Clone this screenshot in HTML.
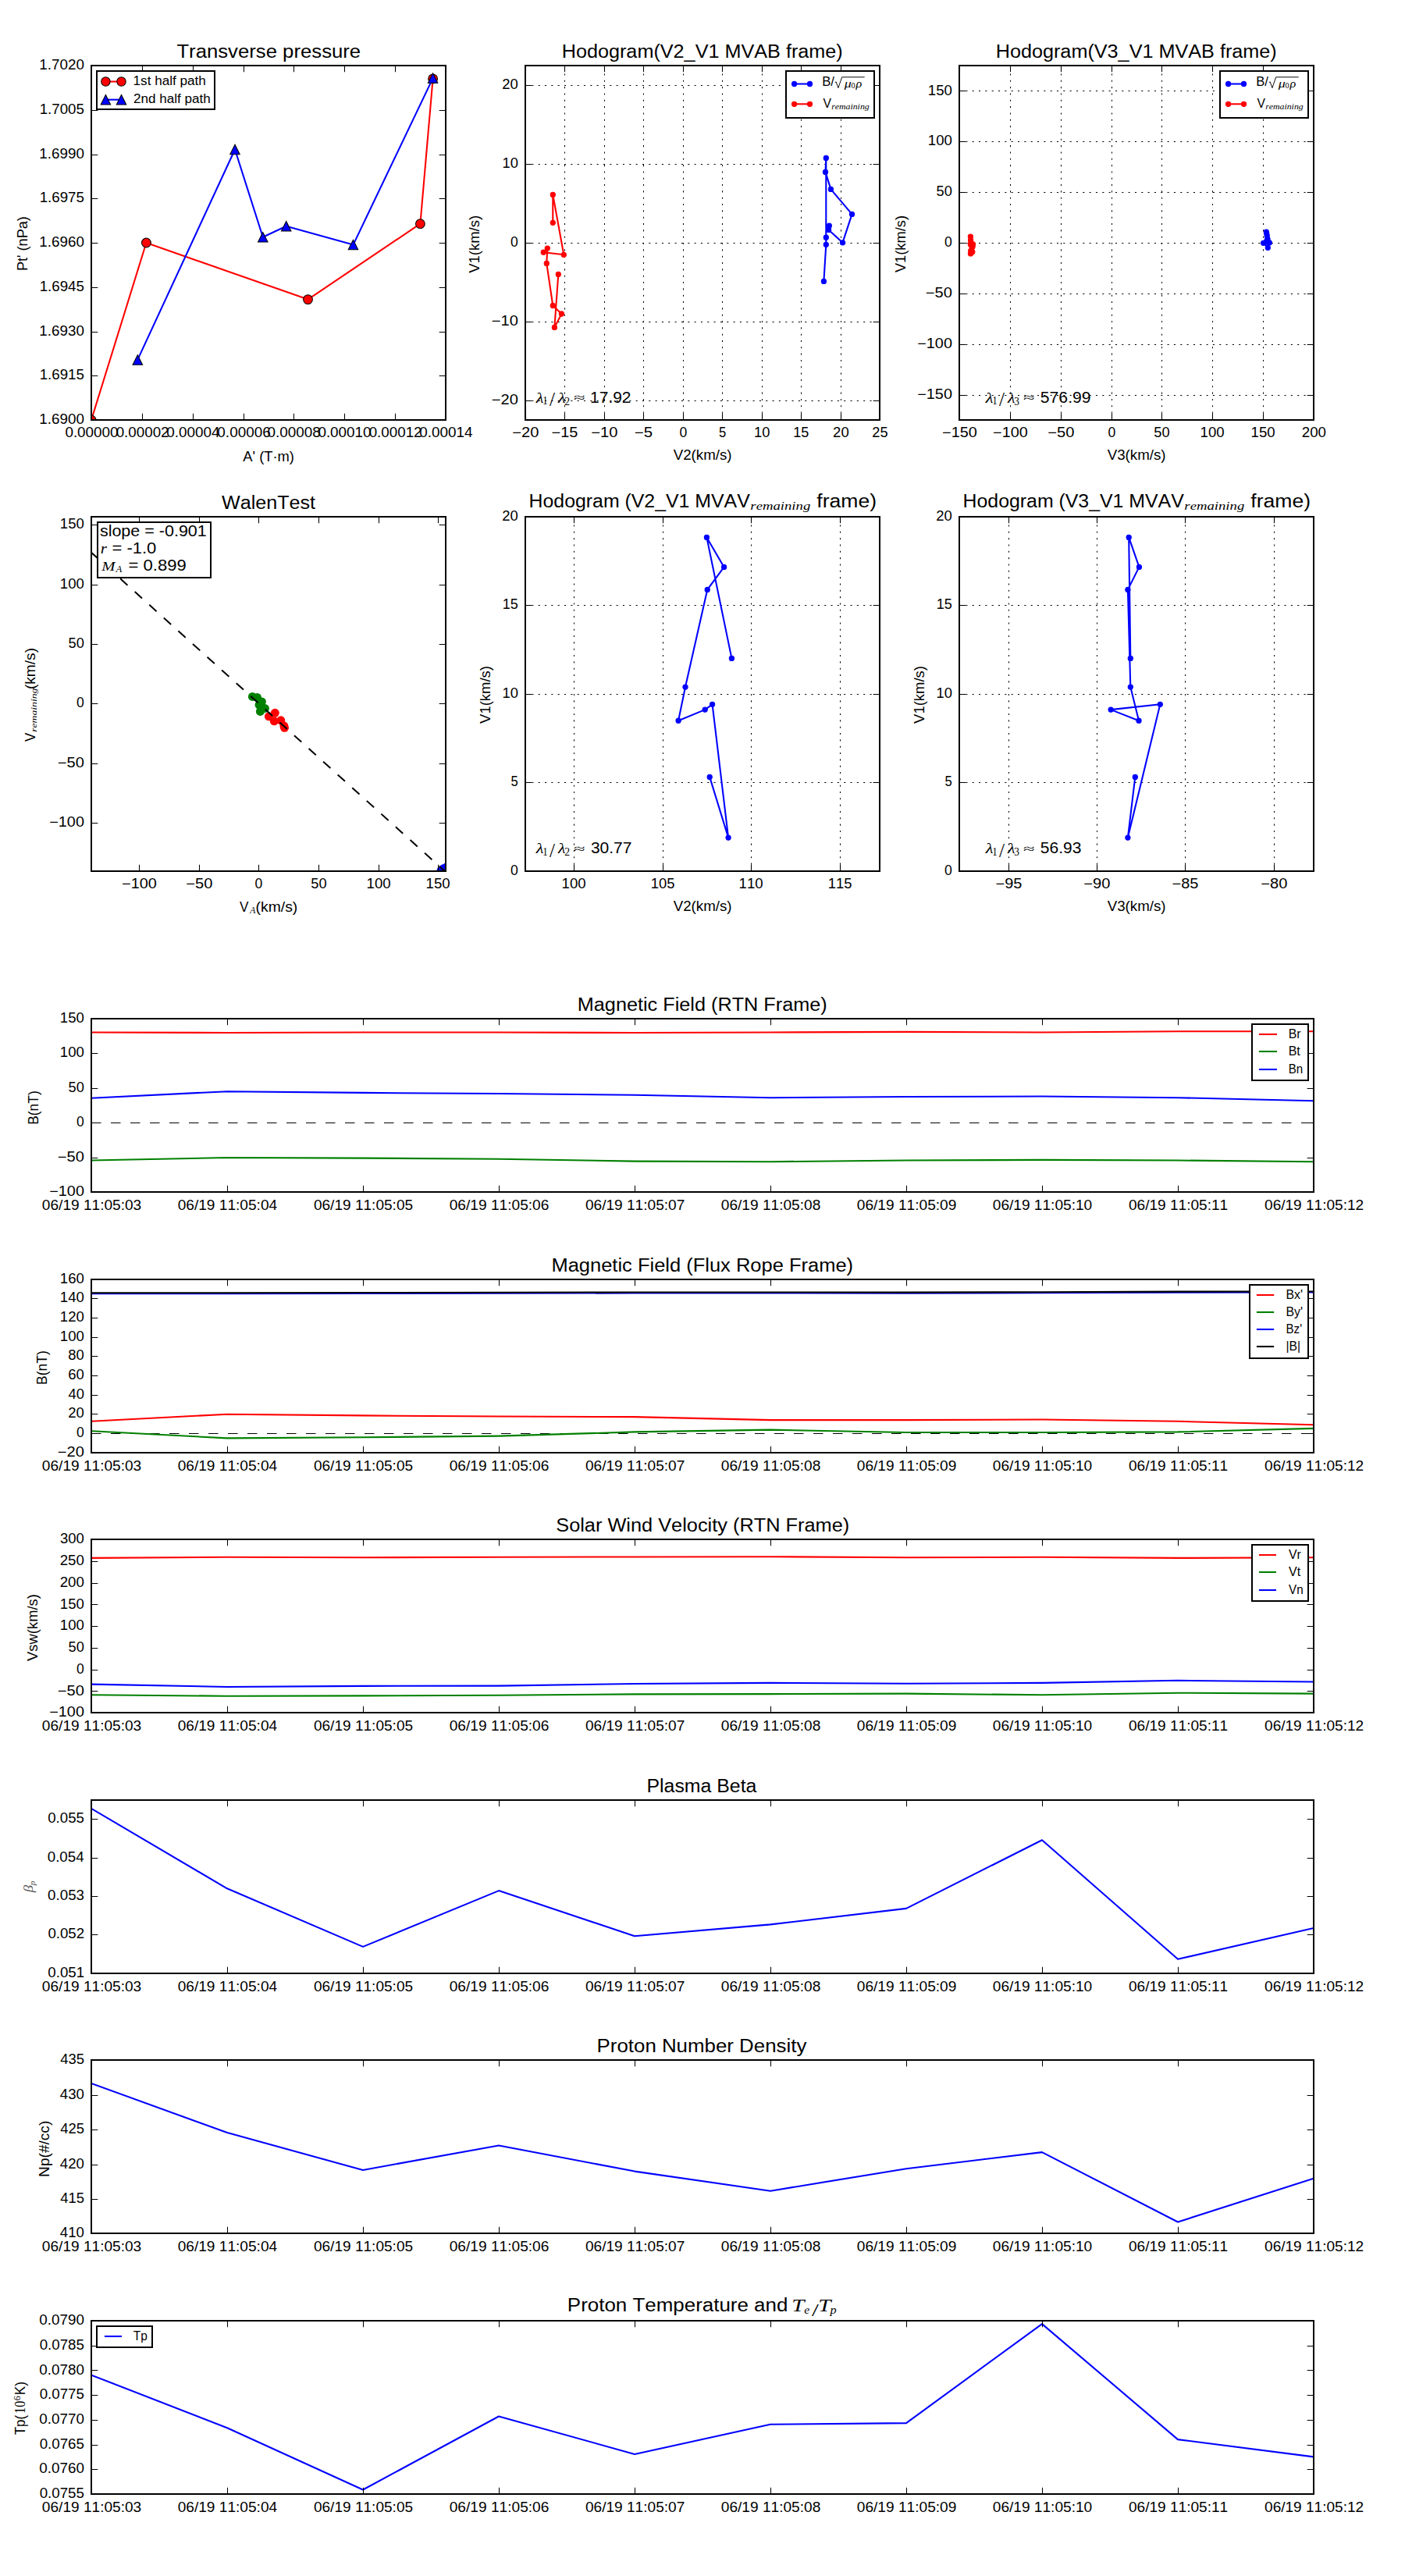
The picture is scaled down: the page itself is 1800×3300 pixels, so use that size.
<!DOCTYPE html>
<html><head><meta charset="utf-8"><title>Flux rope analysis</title>
<style>
html,body{margin:0;padding:0;background:#fff;}
svg{display:block;font-family:"Liberation Sans",sans-serif;font-kerning:none;}
</style></head>
<body>
<svg width="1800" height="3300" viewBox="0 0 1800 3300">
<rect x="0" y="0" width="1800" height="3300" fill="#fff"/>
<clipPath id="cA"><rect x="117" y="84" width="454" height="454"/></clipPath>
<g clip-path="url(#cA)">
<polyline points="117.00,538.00 187.40,311.00 394.50,383.60 538.40,286.70 554.60,100.90" fill="none" stroke="#ff0000" stroke-width="2.08" stroke-linejoin="round"/>
<circle cx="117.00" cy="538.00" r="5.9" fill="#ff0000" stroke="#000" stroke-width="1.04"/>
<circle cx="187.40" cy="311.00" r="5.9" fill="#ff0000" stroke="#000" stroke-width="1.04"/>
<circle cx="394.50" cy="383.60" r="5.9" fill="#ff0000" stroke="#000" stroke-width="1.04"/>
<circle cx="538.40" cy="286.70" r="5.9" fill="#ff0000" stroke="#000" stroke-width="1.04"/>
<circle cx="554.60" cy="100.90" r="5.9" fill="#ff0000" stroke="#000" stroke-width="1.04"/>
<polyline points="176.30,460.90 301.00,191.50 336.80,303.80 366.70,289.70 452.50,313.60 554.60,100.10" fill="none" stroke="#0000ff" stroke-width="2.08" stroke-linejoin="round"/>
<path d="M176.30,454.65L170.05,467.15L182.55,467.15Z" fill="#0000ff" stroke="#000" stroke-width="1.04"/>
<path d="M301.00,185.25L294.75,197.75L307.25,197.75Z" fill="#0000ff" stroke="#000" stroke-width="1.04"/>
<path d="M336.80,297.55L330.55,310.05L343.05,310.05Z" fill="#0000ff" stroke="#000" stroke-width="1.04"/>
<path d="M366.70,283.45L360.45,295.95L372.95,295.95Z" fill="#0000ff" stroke="#000" stroke-width="1.04"/>
<path d="M452.50,307.35L446.25,319.85L458.75,319.85Z" fill="#0000ff" stroke="#000" stroke-width="1.04"/>
<path d="M554.60,93.85L548.35,106.35L560.85,106.35Z" fill="#0000ff" stroke="#000" stroke-width="1.04"/>
</g>
<rect x="117" y="84" width="454" height="454" fill="none" stroke="#000" stroke-width="2.0"/>
<path d="M117.5,538V529.67M117.5,84V92.33M182.5,538V529.67M182.5,84V92.33M247.5,538V529.67M247.5,84V92.33M312.5,538V529.67M312.5,84V92.33M376.5,538V529.67M376.5,84V92.33M441.5,538V529.67M441.5,84V92.33M506.5,538V529.67M506.5,84V92.33M571.5,538V529.67M571.5,84V92.33M117,538.5H125.33M571,538.5H562.67M117,481.5H125.33M571,481.5H562.67M117,425.5H125.33M571,425.5H562.67M117,368.5H125.33M571,368.5H562.67M117,311.5H125.33M571,311.5H562.67M117,254.5H125.33M571,254.5H562.67M117,198.5H125.33M571,198.5H562.67M117,141.5H125.33M571,141.5H562.67M117,84.5H125.33M571,84.5H562.67" stroke="#000" stroke-width="1.04" fill="none"/>
<text x="83.40" y="560.00" font-size="17.50" textLength="68.20" lengthAdjust="spacingAndGlyphs">0.00000</text>
<text x="148.68" y="560.00" font-size="17.50" textLength="67.84" lengthAdjust="spacingAndGlyphs">0.00002</text>
<text x="213.31" y="560.00" font-size="17.50" textLength="68.19" lengthAdjust="spacingAndGlyphs">0.00004</text>
<text x="278.37" y="560.00" font-size="17.50" textLength="68.36" lengthAdjust="spacingAndGlyphs">0.00006</text>
<text x="342.41" y="560.00" font-size="17.50" textLength="68.25" lengthAdjust="spacingAndGlyphs">0.00008</text>
<text x="407.40" y="560.00" font-size="17.50" textLength="68.20" lengthAdjust="spacingAndGlyphs">0.00010</text>
<text x="472.68" y="560.00" font-size="17.50" textLength="67.84" lengthAdjust="spacingAndGlyphs">0.00012</text>
<text x="537.31" y="560.00" font-size="17.50" textLength="68.19" lengthAdjust="spacingAndGlyphs">0.00014</text>
<text x="50.33" y="543.00" font-size="17.50" textLength="57.56" lengthAdjust="spacingAndGlyphs">1.6900</text>
<text x="50.68" y="486.00" font-size="17.50" textLength="57.25" lengthAdjust="spacingAndGlyphs">1.6915</text>
<text x="50.33" y="430.00" font-size="17.50" textLength="57.56" lengthAdjust="spacingAndGlyphs">1.6930</text>
<text x="50.68" y="373.00" font-size="17.50" textLength="57.25" lengthAdjust="spacingAndGlyphs">1.6945</text>
<text x="50.33" y="316.00" font-size="17.50" textLength="57.56" lengthAdjust="spacingAndGlyphs">1.6960</text>
<text x="50.68" y="259.00" font-size="17.50" textLength="57.25" lengthAdjust="spacingAndGlyphs">1.6975</text>
<text x="50.33" y="203.00" font-size="17.50" textLength="57.56" lengthAdjust="spacingAndGlyphs">1.6990</text>
<text x="50.68" y="146.00" font-size="17.50" textLength="57.25" lengthAdjust="spacingAndGlyphs">1.7005</text>
<text x="50.33" y="89.00" font-size="17.50" textLength="57.56" lengthAdjust="spacingAndGlyphs">1.7020</text>
<text x="226.41" y="73.70" font-size="24.15" textLength="235.74" lengthAdjust="spacingAndGlyphs">Transverse pressure</text>
<text x="311.34" y="590.90" font-size="17.50" textLength="65.62" lengthAdjust="spacingAndGlyphs">A' (T·m)</text>
<g transform="rotate(-90 34.80 345.60)">
<text x="33.31" y="345.60" font-size="17.50" textLength="70.01" lengthAdjust="spacingAndGlyphs">Pt' (nPa)</text>
</g>
<rect x="124" y="91" width="151" height="49" fill="#fff" stroke="#000" stroke-width="2.0"/>
<line x1="135.40" y1="104.50" x2="155.50" y2="104.50" stroke="#ff0000" stroke-width="2.08"/>
<circle cx="135.40" cy="104.50" r="5.7" fill="#ff0000" stroke="#000" stroke-width="1.04"/>
<circle cx="155.50" cy="104.50" r="5.7" fill="#ff0000" stroke="#000" stroke-width="1.04"/>
<line x1="135.40" y1="127.70" x2="155.50" y2="127.70" stroke="#0000ff" stroke-width="2.08"/>
<path d="M135.40,121.45L129.15,133.95L141.65,133.95Z" fill="#0000ff" stroke="#000" stroke-width="1.04"/>
<path d="M155.50,121.45L149.25,133.95L161.75,133.95Z" fill="#0000ff" stroke="#000" stroke-width="1.04"/>
<text x="170.60" y="108.80" font-size="15.98" textLength="93.29" lengthAdjust="spacingAndGlyphs">1st half path</text>
<text x="171.04" y="131.80" font-size="15.98" textLength="98.64" lengthAdjust="spacingAndGlyphs">2nd half path</text>
<path d="M723.5,538V84M774.5,538V84M824.5,538V84M875.5,538V84M925.5,538V84M976.5,538V84M1026.5,538V84M1077.5,538V84" stroke="#000" stroke-width="1.04" stroke-dasharray="2.08 6.25" fill="none"/>
<path d="M673,513.5H1127M673,412.5H1127M673,311.5H1127M673,210.5H1127M673,109.5H1127" stroke="#000" stroke-width="1.04" stroke-dasharray="2.08 6.25" fill="none"/>
<clipPath id="cB"><rect x="673" y="84" width="454" height="454"/></clipPath>
<g clip-path="url(#cB)">
<polyline points="708.30,285.30 708.30,249.40 722.30,326.30 696.30,323.20 701.30,318.10 700.30,337.40 708.30,391.50 719.40,402.00 710.40,419.40 715.30,351.50" fill="none" stroke="#ff0000" stroke-width="2.08" stroke-linejoin="round"/>
<circle cx="708.30" cy="285.30" r="3.125" fill="#ff0000" stroke="#ff0000" stroke-width="1.04"/>
<circle cx="708.30" cy="249.40" r="3.125" fill="#ff0000" stroke="#ff0000" stroke-width="1.04"/>
<circle cx="722.30" cy="326.30" r="3.125" fill="#ff0000" stroke="#ff0000" stroke-width="1.04"/>
<circle cx="696.30" cy="323.20" r="3.125" fill="#ff0000" stroke="#ff0000" stroke-width="1.04"/>
<circle cx="701.30" cy="318.10" r="3.125" fill="#ff0000" stroke="#ff0000" stroke-width="1.04"/>
<circle cx="700.30" cy="337.40" r="3.125" fill="#ff0000" stroke="#ff0000" stroke-width="1.04"/>
<circle cx="708.30" cy="391.50" r="3.125" fill="#ff0000" stroke="#ff0000" stroke-width="1.04"/>
<circle cx="719.40" cy="402.00" r="3.125" fill="#ff0000" stroke="#ff0000" stroke-width="1.04"/>
<circle cx="710.40" cy="419.40" r="3.125" fill="#ff0000" stroke="#ff0000" stroke-width="1.04"/>
<circle cx="715.30" cy="351.50" r="3.125" fill="#ff0000" stroke="#ff0000" stroke-width="1.04"/>
<polyline points="1055.40,360.40 1058.30,313.30 1058.30,304.20 1058.30,202.40 1057.50,220.40 1064.40,242.40 1091.50,274.40 1079.50,310.80 1061.60,294.40 1062.30,289.20" fill="none" stroke="#0000ff" stroke-width="2.08" stroke-linejoin="round"/>
<circle cx="1055.40" cy="360.40" r="3.125" fill="#0000ff" stroke="#0000ff" stroke-width="1.04"/>
<circle cx="1058.30" cy="313.30" r="3.125" fill="#0000ff" stroke="#0000ff" stroke-width="1.04"/>
<circle cx="1058.30" cy="304.20" r="3.125" fill="#0000ff" stroke="#0000ff" stroke-width="1.04"/>
<circle cx="1058.30" cy="202.40" r="3.125" fill="#0000ff" stroke="#0000ff" stroke-width="1.04"/>
<circle cx="1057.50" cy="220.40" r="3.125" fill="#0000ff" stroke="#0000ff" stroke-width="1.04"/>
<circle cx="1064.40" cy="242.40" r="3.125" fill="#0000ff" stroke="#0000ff" stroke-width="1.04"/>
<circle cx="1091.50" cy="274.40" r="3.125" fill="#0000ff" stroke="#0000ff" stroke-width="1.04"/>
<circle cx="1079.50" cy="310.80" r="3.125" fill="#0000ff" stroke="#0000ff" stroke-width="1.04"/>
<circle cx="1061.60" cy="294.40" r="3.125" fill="#0000ff" stroke="#0000ff" stroke-width="1.04"/>
<circle cx="1062.30" cy="289.20" r="3.125" fill="#0000ff" stroke="#0000ff" stroke-width="1.04"/>
</g>
<rect x="673" y="84" width="454" height="454" fill="none" stroke="#000" stroke-width="2.0"/>
<path d="M673.5,538V529.67M673.5,84V92.33M723.5,538V529.67M723.5,84V92.33M774.5,538V529.67M774.5,84V92.33M824.5,538V529.67M824.5,84V92.33M875.5,538V529.67M875.5,84V92.33M925.5,538V529.67M925.5,84V92.33M976.5,538V529.67M976.5,84V92.33M1026.5,538V529.67M1026.5,84V92.33M1077.5,538V529.67M1077.5,84V92.33M1127.5,538V529.67M1127.5,84V92.33M673,513.5H681.33M1127,513.5H1118.67M673,412.5H681.33M1127,412.5H1118.67M673,311.5H681.33M1127,311.5H1118.67M673,210.5H681.33M1127,210.5H1118.67M673,109.5H681.33M1127,109.5H1118.67" stroke="#000" stroke-width="1.04" fill="none"/>
<text x="656.36" y="560.00" font-size="17.50" textLength="34.08" lengthAdjust="spacingAndGlyphs">−20</text>
<text x="706.54" y="560.00" font-size="17.50" textLength="33.77" lengthAdjust="spacingAndGlyphs">−15</text>
<text x="757.36" y="560.00" font-size="17.50" textLength="34.08" lengthAdjust="spacingAndGlyphs">−10</text>
<text x="812.82" y="560.00" font-size="17.50" textLength="23.21" lengthAdjust="spacingAndGlyphs">−5</text>
<text x="870.61" y="560.00" font-size="17.50" textLength="9.77" lengthAdjust="spacingAndGlyphs">0</text>
<text x="920.90" y="560.00" font-size="17.50" textLength="9.22" lengthAdjust="spacingAndGlyphs">5</text>
<text x="965.97" y="560.00" font-size="17.50" textLength="20.39" lengthAdjust="spacingAndGlyphs">10</text>
<text x="1016.16" y="560.00" font-size="17.50" textLength="20.05" lengthAdjust="spacingAndGlyphs">15</text>
<text x="1067.13" y="560.00" font-size="17.50" textLength="20.53" lengthAdjust="spacingAndGlyphs">20</text>
<text x="1117.32" y="560.00" font-size="17.50" textLength="20.21" lengthAdjust="spacingAndGlyphs">25</text>
<text x="629.85" y="518.00" font-size="17.50" textLength="34.08" lengthAdjust="spacingAndGlyphs">−20</text>
<text x="629.85" y="417.00" font-size="17.50" textLength="34.08" lengthAdjust="spacingAndGlyphs">−10</text>
<text x="654.06" y="316.00" font-size="17.50" textLength="9.77" lengthAdjust="spacingAndGlyphs">0</text>
<text x="643.48" y="215.00" font-size="17.50" textLength="20.39" lengthAdjust="spacingAndGlyphs">10</text>
<text x="643.34" y="114.00" font-size="17.50" textLength="20.53" lengthAdjust="spacingAndGlyphs">20</text>
<rect x="1007" y="91" width="113" height="60" fill="#fff" stroke="#000" stroke-width="2.0"/>
<line x1="1017.60" y1="107.50" x2="1037.50" y2="107.50" stroke="#0000ff" stroke-width="2.08"/>
<circle cx="1017.60" cy="107.50" r="3.125" fill="#0000ff" stroke="#0000ff" stroke-width="1.04"/>
<circle cx="1037.50" cy="107.50" r="3.125" fill="#0000ff" stroke="#0000ff" stroke-width="1.04"/>
<line x1="1017.60" y1="133.30" x2="1037.50" y2="133.30" stroke="#ff0000" stroke-width="2.08"/>
<circle cx="1017.60" cy="133.30" r="3.125" fill="#ff0000" stroke="#ff0000" stroke-width="1.04"/>
<circle cx="1037.50" cy="133.30" r="3.125" fill="#ff0000" stroke="#ff0000" stroke-width="1.04"/>
<text x="1053.24" y="110.40" font-size="16.28" textLength="15.70" lengthAdjust="spacingAndGlyphs">B/</text>
<path d="M1069.80,105.80L1071.20,104.80L1073.90,112.60L1078.70,98.80L1107.70,98.80" fill="none" stroke="#000" stroke-width="0.95" stroke-linejoin="miter"/>
<text x="1081.82" y="112.00" font-size="14.50" textLength="8.98" lengthAdjust="spacingAndGlyphs" font-family="'Liberation Serif', serif" font-style="italic">μ</text>
<text x="1090.51" y="113.40" font-size="10.50" textLength="5.07" lengthAdjust="spacingAndGlyphs" font-family="'Liberation Serif', serif">0</text>
<text x="1096.51" y="112.00" font-size="14.50" textLength="7.78" lengthAdjust="spacingAndGlyphs" font-family="'Liberation Serif', serif" font-style="italic">ρ</text>
<text x="1054.53" y="137.90" font-size="16.28" textLength="10.49" lengthAdjust="spacingAndGlyphs">V</text>
<text x="1065.28" y="140.40" font-size="11.00" textLength="48.42" lengthAdjust="spacingAndGlyphs" font-family="'Liberation Serif', serif" font-style="italic">remaining</text>
<text x="719.70" y="73.70" font-size="24.15" textLength="360.09" lengthAdjust="spacingAndGlyphs">Hodogram(V2_V1 MVAB frame)</text>
<text x="862.69" y="588.60" font-size="17.50" textLength="74.89" lengthAdjust="spacingAndGlyphs">V2(km/s)</text>
<g transform="rotate(-90 613.90 349.70)">
<text x="613.82" y="349.70" font-size="17.50" textLength="73.83" lengthAdjust="spacingAndGlyphs">V1(km/s)</text>
</g>
<text x="686.75" y="515.90" font-size="18.32" textLength="9.71" lengthAdjust="spacingAndGlyphs" font-family="'Liberation Serif', serif" font-style="italic">λ</text>
<text x="695.28" y="518.40" font-size="13.64" textLength="6.39" lengthAdjust="spacingAndGlyphs" font-family="'Liberation Serif', serif">1</text>
<text x="703.90" y="520.40" font-size="26.01" textLength="7.00" lengthAdjust="spacingAndGlyphs" font-family="'Liberation Serif', serif">/</text>
<text x="714.93" y="515.90" font-size="18.32" textLength="9.41" lengthAdjust="spacingAndGlyphs" font-family="'Liberation Serif', serif" font-style="italic">λ</text>
<text x="723.20" y="518.90" font-size="13.64" textLength="6.86" lengthAdjust="spacingAndGlyphs" font-family="'Liberation Serif', serif">2</text>
<text x="735.06" y="514.40" font-size="14.00" textLength="14.62" lengthAdjust="spacingAndGlyphs" font-family="'Liberation Serif', serif">≈</text>
<text x="756.11" y="515.90" font-size="19.69" textLength="52.39" lengthAdjust="spacingAndGlyphs">17.92</text>
<path d="M1294.5,538V84M1359.5,538V84M1424.5,538V84M1488.5,538V84M1553.5,538V84M1618.5,538V84" stroke="#000" stroke-width="1.04" stroke-dasharray="2.08 6.25" fill="none"/>
<path d="M1229,506.5H1683M1229,441.5H1683M1229,376.5H1683M1229,311.5H1683M1229,246.5H1683M1229,181.5H1683M1229,116.5H1683" stroke="#000" stroke-width="1.04" stroke-dasharray="2.08 6.25" fill="none"/>
<clipPath id="cC"><rect x="1229" y="84" width="454" height="454"/></clipPath>
<g clip-path="url(#cC)">
<polyline points="1243.40,303.09 1243.60,307.69 1246.50,312.97 1244.50,311.91 1243.30,312.56 1244.00,314.37 1246.00,316.19 1243.80,321.25 1245.80,322.67 1243.50,324.88" fill="none" stroke="#ff0000" stroke-width="2.08" stroke-linejoin="round"/>
<circle cx="1243.40" cy="303.09" r="3.125" fill="#ff0000" stroke="#ff0000" stroke-width="1.04"/>
<circle cx="1243.60" cy="307.69" r="3.125" fill="#ff0000" stroke="#ff0000" stroke-width="1.04"/>
<circle cx="1246.50" cy="312.97" r="3.125" fill="#ff0000" stroke="#ff0000" stroke-width="1.04"/>
<circle cx="1244.50" cy="311.91" r="3.125" fill="#ff0000" stroke="#ff0000" stroke-width="1.04"/>
<circle cx="1243.30" cy="312.56" r="3.125" fill="#ff0000" stroke="#ff0000" stroke-width="1.04"/>
<circle cx="1244.00" cy="314.37" r="3.125" fill="#ff0000" stroke="#ff0000" stroke-width="1.04"/>
<circle cx="1246.00" cy="316.19" r="3.125" fill="#ff0000" stroke="#ff0000" stroke-width="1.04"/>
<circle cx="1243.80" cy="321.25" r="3.125" fill="#ff0000" stroke="#ff0000" stroke-width="1.04"/>
<circle cx="1245.80" cy="322.67" r="3.125" fill="#ff0000" stroke="#ff0000" stroke-width="1.04"/>
<circle cx="1243.50" cy="324.88" r="3.125" fill="#ff0000" stroke="#ff0000" stroke-width="1.04"/>
<polyline points="1622.30,297.04 1622.80,299.35 1623.20,302.18 1624.00,306.33 1622.90,308.28 1623.40,308.92 1622.60,310.13 1626.30,310.97 1618.60,311.30 1624.30,317.36" fill="none" stroke="#0000ff" stroke-width="2.08" stroke-linejoin="round"/>
<circle cx="1622.30" cy="297.04" r="3.125" fill="#0000ff" stroke="#0000ff" stroke-width="1.04"/>
<circle cx="1622.80" cy="299.35" r="3.125" fill="#0000ff" stroke="#0000ff" stroke-width="1.04"/>
<circle cx="1623.20" cy="302.18" r="3.125" fill="#0000ff" stroke="#0000ff" stroke-width="1.04"/>
<circle cx="1624.00" cy="306.33" r="3.125" fill="#0000ff" stroke="#0000ff" stroke-width="1.04"/>
<circle cx="1622.90" cy="308.28" r="3.125" fill="#0000ff" stroke="#0000ff" stroke-width="1.04"/>
<circle cx="1623.40" cy="308.92" r="3.125" fill="#0000ff" stroke="#0000ff" stroke-width="1.04"/>
<circle cx="1622.60" cy="310.13" r="3.125" fill="#0000ff" stroke="#0000ff" stroke-width="1.04"/>
<circle cx="1626.30" cy="310.97" r="3.125" fill="#0000ff" stroke="#0000ff" stroke-width="1.04"/>
<circle cx="1618.60" cy="311.30" r="3.125" fill="#0000ff" stroke="#0000ff" stroke-width="1.04"/>
<circle cx="1624.30" cy="317.36" r="3.125" fill="#0000ff" stroke="#0000ff" stroke-width="1.04"/>
</g>
<rect x="1229" y="84" width="454" height="454" fill="none" stroke="#000" stroke-width="2.0"/>
<path d="M1229.5,538V529.67M1229.5,84V92.33M1294.5,538V529.67M1294.5,84V92.33M1359.5,538V529.67M1359.5,84V92.33M1424.5,538V529.67M1424.5,84V92.33M1488.5,538V529.67M1488.5,84V92.33M1553.5,538V529.67M1553.5,84V92.33M1618.5,538V529.67M1618.5,84V92.33M1683.5,538V529.67M1683.5,84V92.33M1229,506.5H1237.33M1683,506.5H1674.67M1229,441.5H1237.33M1683,441.5H1674.67M1229,376.5H1237.33M1683,376.5H1674.67M1229,311.5H1237.33M1683,311.5H1674.67M1229,246.5H1237.33M1683,246.5H1674.67M1229,181.5H1237.33M1683,181.5H1674.67M1229,116.5H1237.33M1683,116.5H1674.67" stroke="#000" stroke-width="1.04" fill="none"/>
<text x="1207.07" y="560.00" font-size="17.50" textLength="44.66" lengthAdjust="spacingAndGlyphs">−150</text>
<text x="1272.07" y="560.00" font-size="17.50" textLength="44.66" lengthAdjust="spacingAndGlyphs">−100</text>
<text x="1342.36" y="560.00" font-size="17.50" textLength="34.08" lengthAdjust="spacingAndGlyphs">−50</text>
<text x="1419.61" y="560.00" font-size="17.50" textLength="9.77" lengthAdjust="spacingAndGlyphs">0</text>
<text x="1478.36" y="560.00" font-size="17.50" textLength="20.26" lengthAdjust="spacingAndGlyphs">50</text>
<text x="1537.64" y="560.00" font-size="17.50" textLength="31.02" lengthAdjust="spacingAndGlyphs">100</text>
<text x="1602.64" y="560.00" font-size="17.50" textLength="31.02" lengthAdjust="spacingAndGlyphs">150</text>
<text x="1667.82" y="560.00" font-size="17.50" textLength="31.16" lengthAdjust="spacingAndGlyphs">200</text>
<text x="1175.26" y="511.00" font-size="17.50" textLength="44.66" lengthAdjust="spacingAndGlyphs">−150</text>
<text x="1175.26" y="446.00" font-size="17.50" textLength="44.66" lengthAdjust="spacingAndGlyphs">−100</text>
<text x="1185.85" y="381.00" font-size="17.50" textLength="34.08" lengthAdjust="spacingAndGlyphs">−50</text>
<text x="1210.06" y="316.00" font-size="17.50" textLength="9.77" lengthAdjust="spacingAndGlyphs">0</text>
<text x="1199.60" y="251.00" font-size="17.50" textLength="20.26" lengthAdjust="spacingAndGlyphs">50</text>
<text x="1188.85" y="186.00" font-size="17.50" textLength="31.02" lengthAdjust="spacingAndGlyphs">100</text>
<text x="1188.85" y="122.00" font-size="17.50" textLength="31.02" lengthAdjust="spacingAndGlyphs">150</text>
<rect x="1563" y="91" width="113" height="60" fill="#fff" stroke="#000" stroke-width="2.0"/>
<line x1="1573.60" y1="107.50" x2="1593.50" y2="107.50" stroke="#0000ff" stroke-width="2.08"/>
<circle cx="1573.60" cy="107.50" r="3.125" fill="#0000ff" stroke="#0000ff" stroke-width="1.04"/>
<circle cx="1593.50" cy="107.50" r="3.125" fill="#0000ff" stroke="#0000ff" stroke-width="1.04"/>
<line x1="1573.60" y1="133.30" x2="1593.50" y2="133.30" stroke="#ff0000" stroke-width="2.08"/>
<circle cx="1573.60" cy="133.30" r="3.125" fill="#ff0000" stroke="#ff0000" stroke-width="1.04"/>
<circle cx="1593.50" cy="133.30" r="3.125" fill="#ff0000" stroke="#ff0000" stroke-width="1.04"/>
<text x="1609.24" y="110.40" font-size="16.28" textLength="15.70" lengthAdjust="spacingAndGlyphs">B/</text>
<path d="M1625.80,105.80L1627.20,104.80L1629.90,112.60L1634.70,98.80L1663.70,98.80" fill="none" stroke="#000" stroke-width="0.95" stroke-linejoin="miter"/>
<text x="1637.82" y="112.00" font-size="14.50" textLength="8.98" lengthAdjust="spacingAndGlyphs" font-family="'Liberation Serif', serif" font-style="italic">μ</text>
<text x="1646.51" y="113.40" font-size="10.50" textLength="5.07" lengthAdjust="spacingAndGlyphs" font-family="'Liberation Serif', serif">0</text>
<text x="1652.51" y="112.00" font-size="14.50" textLength="7.78" lengthAdjust="spacingAndGlyphs" font-family="'Liberation Serif', serif" font-style="italic">ρ</text>
<text x="1610.53" y="137.90" font-size="16.28" textLength="10.49" lengthAdjust="spacingAndGlyphs">V</text>
<text x="1621.28" y="140.40" font-size="11.00" textLength="48.42" lengthAdjust="spacingAndGlyphs" font-family="'Liberation Serif', serif" font-style="italic">remaining</text>
<text x="1275.70" y="73.70" font-size="24.15" textLength="360.09" lengthAdjust="spacingAndGlyphs">Hodogram(V3_V1 MVAB frame)</text>
<text x="1418.69" y="588.60" font-size="17.50" textLength="74.89" lengthAdjust="spacingAndGlyphs">V3(km/s)</text>
<g transform="rotate(-90 1159.90 349.00)">
<text x="1159.82" y="349.00" font-size="17.50" textLength="73.11" lengthAdjust="spacingAndGlyphs">V1(km/s)</text>
</g>
<text x="1262.75" y="515.90" font-size="18.32" textLength="9.71" lengthAdjust="spacingAndGlyphs" font-family="'Liberation Serif', serif" font-style="italic">λ</text>
<text x="1271.28" y="518.40" font-size="13.64" textLength="6.39" lengthAdjust="spacingAndGlyphs" font-family="'Liberation Serif', serif">1</text>
<text x="1279.90" y="520.40" font-size="26.01" textLength="7.00" lengthAdjust="spacingAndGlyphs" font-family="'Liberation Serif', serif">/</text>
<text x="1290.93" y="515.90" font-size="18.32" textLength="9.41" lengthAdjust="spacingAndGlyphs" font-family="'Liberation Serif', serif" font-style="italic">λ</text>
<text x="1299.16" y="518.90" font-size="13.64" textLength="6.66" lengthAdjust="spacingAndGlyphs" font-family="'Liberation Serif', serif">3</text>
<text x="1311.06" y="514.40" font-size="14.00" textLength="14.62" lengthAdjust="spacingAndGlyphs" font-family="'Liberation Serif', serif">≈</text>
<text x="1332.85" y="515.90" font-size="19.69" textLength="64.69" lengthAdjust="spacingAndGlyphs">576.99</text>
<clipPath id="cD"><rect x="117" y="662" width="454" height="454"/></clipPath>
<g clip-path="url(#cD)">
<circle cx="323.40" cy="892.40" r="5.5" fill="#008000"/>
<circle cx="329.50" cy="893.50" r="5.5" fill="#008000"/>
<circle cx="335.40" cy="898.90" r="5.5" fill="#008000"/>
<circle cx="332.00" cy="903.00" r="5.5" fill="#008000"/>
<circle cx="339.40" cy="907.40" r="5.5" fill="#008000"/>
<circle cx="333.40" cy="911.40" r="5.5" fill="#008000"/>
<circle cx="352.30" cy="913.30" r="5.5" fill="#ff0000"/>
<circle cx="344.40" cy="917.80" r="5.5" fill="#ff0000"/>
<circle cx="351.30" cy="923.80" r="5.5" fill="#ff0000"/>
<circle cx="359.80" cy="922.80" r="5.5" fill="#ff0000"/>
<circle cx="363.80" cy="929.80" r="5.5" fill="#ff0000"/>
<circle cx="364.50" cy="932.30" r="5.5" fill="#ff0000"/>
<circle cx="565.00" cy="1115.50" r="5.5" fill="#0000ff"/>
<circle cx="568.50" cy="1112.50" r="5.5" fill="#0000ff"/>
<circle cx="572.00" cy="1111.00" r="5.5" fill="#0000ff"/>
<line x1="117.00" y1="707.83" x2="571.00" y2="1117.11" stroke="#000" stroke-width="2.0" stroke-dasharray="12.5 12.5"/>
</g>
<rect x="117" y="662" width="454" height="454" fill="none" stroke="#000" stroke-width="2.0"/>
<path d="M178.5,1116V1107.67M178.5,662V670.33M255.5,1116V1107.67M255.5,662V670.33M331.5,1116V1107.67M331.5,662V670.33M408.5,1116V1107.67M408.5,662V670.33M485.5,1116V1107.67M485.5,662V670.33M561.5,1116V1107.67M561.5,662V670.33M117,1054.5H125.33M571,1054.5H562.67M117,978.5H125.33M571,978.5H562.67M117,901.5H125.33M571,901.5H562.67M117,825.5H125.33M571,825.5H562.67M117,749.5H125.33M571,749.5H562.67M117,672.5H125.33M571,672.5H562.67" stroke="#000" stroke-width="1.04" fill="none"/>
<text x="156.07" y="1138.00" font-size="17.50" textLength="44.66" lengthAdjust="spacingAndGlyphs">−100</text>
<text x="238.36" y="1138.00" font-size="17.50" textLength="34.08" lengthAdjust="spacingAndGlyphs">−50</text>
<text x="326.61" y="1138.00" font-size="17.50" textLength="9.77" lengthAdjust="spacingAndGlyphs">0</text>
<text x="398.36" y="1138.00" font-size="17.50" textLength="20.26" lengthAdjust="spacingAndGlyphs">50</text>
<text x="469.64" y="1138.00" font-size="17.50" textLength="31.02" lengthAdjust="spacingAndGlyphs">100</text>
<text x="545.64" y="1138.00" font-size="17.50" textLength="31.02" lengthAdjust="spacingAndGlyphs">150</text>
<text x="63.26" y="1059.00" font-size="17.50" textLength="44.66" lengthAdjust="spacingAndGlyphs">−100</text>
<text x="73.85" y="983.00" font-size="17.50" textLength="34.08" lengthAdjust="spacingAndGlyphs">−50</text>
<text x="98.06" y="906.00" font-size="17.50" textLength="9.77" lengthAdjust="spacingAndGlyphs">0</text>
<text x="87.60" y="830.00" font-size="17.50" textLength="20.26" lengthAdjust="spacingAndGlyphs">50</text>
<text x="76.85" y="754.00" font-size="17.50" textLength="31.02" lengthAdjust="spacingAndGlyphs">100</text>
<text x="76.85" y="677.00" font-size="17.50" textLength="31.02" lengthAdjust="spacingAndGlyphs">150</text>
<text x="283.97" y="651.70" font-size="24.15" textLength="120.13" lengthAdjust="spacingAndGlyphs">WalenTest</text>
<text x="306.92" y="1167.90" font-size="17.50" textLength="11.45" lengthAdjust="spacingAndGlyphs">V</text>
<text x="320.13" y="1169.80" font-size="12.10" textLength="7.03" lengthAdjust="spacingAndGlyphs" font-family="'Liberation Serif', serif" font-style="italic">A</text>
<text x="327.60" y="1167.90" font-size="17.50" textLength="53.70" lengthAdjust="spacingAndGlyphs">(km/s)</text>
<g transform="rotate(-90 45.10 949.80)">
<text x="45.03" y="949.80" font-size="17.50" textLength="11.25" lengthAdjust="spacingAndGlyphs">V</text>
<text x="57.04" y="951.80" font-size="10.30" textLength="56.36" lengthAdjust="spacingAndGlyphs" font-family="'Liberation Serif', serif" font-style="italic">remaining</text>
<text x="111.81" y="949.80" font-size="17.50" textLength="53.17" lengthAdjust="spacingAndGlyphs">(km/s)</text>
</g>
<rect x="125" y="669" width="145" height="71" fill="#fff" stroke="#000" stroke-width="2.0"/>
<text x="127.90" y="686.60" font-size="19.69" textLength="136.86" lengthAdjust="spacingAndGlyphs">slope = -0.901</text>
<text x="128.85" y="708.50" font-size="18.70" textLength="8.19" lengthAdjust="spacingAndGlyphs" font-family="'Liberation Serif', serif" font-style="italic">r</text>
<text x="143.42" y="708.50" font-size="19.69" textLength="56.96" lengthAdjust="spacingAndGlyphs">= -1.0</text>
<text x="130.24" y="730.50" font-size="17.40" textLength="17.30" lengthAdjust="spacingAndGlyphs" font-family="'Liberation Serif', serif" font-style="italic">M</text>
<text x="148.59" y="733.30" font-size="12.00" textLength="7.76" lengthAdjust="spacingAndGlyphs" font-family="'Liberation Serif', serif" font-style="italic">A</text>
<text x="164.52" y="730.50" font-size="19.69" textLength="74.16" lengthAdjust="spacingAndGlyphs">= 0.899</text>
<path d="M735.5,1116V662M849.5,1116V662M962.5,1116V662M1076.5,1116V662" stroke="#000" stroke-width="1.04" stroke-dasharray="2.08 6.25" fill="none"/>
<path d="M673,1002.5H1127M673,889.5H1127M673,775.5H1127" stroke="#000" stroke-width="1.04" stroke-dasharray="2.08 6.25" fill="none"/>
<clipPath id="cE"><rect x="673" y="662" width="454" height="454"/></clipPath>
<g clip-path="url(#cE)">
<polyline points="937.40,843.40 905.40,688.40 927.60,726.40 906.20,755.40 878.00,880.10 869.10,923.20 903.20,909.10 912.60,902.30 933.10,1073.10 909.20,995.40" fill="none" stroke="#0000ff" stroke-width="2.08" stroke-linejoin="round"/>
<circle cx="937.40" cy="843.40" r="3.125" fill="#0000ff" stroke="#0000ff" stroke-width="1.04"/>
<circle cx="905.40" cy="688.40" r="3.125" fill="#0000ff" stroke="#0000ff" stroke-width="1.04"/>
<circle cx="927.60" cy="726.40" r="3.125" fill="#0000ff" stroke="#0000ff" stroke-width="1.04"/>
<circle cx="906.20" cy="755.40" r="3.125" fill="#0000ff" stroke="#0000ff" stroke-width="1.04"/>
<circle cx="878.00" cy="880.10" r="3.125" fill="#0000ff" stroke="#0000ff" stroke-width="1.04"/>
<circle cx="869.10" cy="923.20" r="3.125" fill="#0000ff" stroke="#0000ff" stroke-width="1.04"/>
<circle cx="903.20" cy="909.10" r="3.125" fill="#0000ff" stroke="#0000ff" stroke-width="1.04"/>
<circle cx="912.60" cy="902.30" r="3.125" fill="#0000ff" stroke="#0000ff" stroke-width="1.04"/>
<circle cx="933.10" cy="1073.10" r="3.125" fill="#0000ff" stroke="#0000ff" stroke-width="1.04"/>
<circle cx="909.20" cy="995.40" r="3.125" fill="#0000ff" stroke="#0000ff" stroke-width="1.04"/>
</g>
<rect x="673" y="662" width="454" height="454" fill="none" stroke="#000" stroke-width="2.0"/>
<path d="M735.5,1116V1107.67M735.5,662V670.33M849.5,1116V1107.67M849.5,662V670.33M962.5,1116V1107.67M962.5,662V670.33M1076.5,1116V1107.67M1076.5,662V670.33M673,1116.5H681.33M1127,1116.5H1118.67M673,1002.5H681.33M1127,1002.5H1118.67M673,889.5H681.33M1127,889.5H1118.67M673,775.5H681.33M1127,775.5H1118.67M673,662.5H681.33M1127,662.5H1118.67" stroke="#000" stroke-width="1.04" fill="none"/>
<text x="719.64" y="1138.00" font-size="17.50" textLength="31.02" lengthAdjust="spacingAndGlyphs">100</text>
<text x="833.83" y="1138.00" font-size="17.50" textLength="30.70" lengthAdjust="spacingAndGlyphs">105</text>
<text x="946.64" y="1138.00" font-size="17.50" textLength="31.02" lengthAdjust="spacingAndGlyphs">110</text>
<text x="1060.83" y="1138.00" font-size="17.50" textLength="30.70" lengthAdjust="spacingAndGlyphs">115</text>
<text x="654.06" y="1121.00" font-size="17.50" textLength="9.77" lengthAdjust="spacingAndGlyphs">0</text>
<text x="654.62" y="1007.00" font-size="17.50" textLength="9.22" lengthAdjust="spacingAndGlyphs">5</text>
<text x="643.48" y="894.00" font-size="17.50" textLength="20.39" lengthAdjust="spacingAndGlyphs">10</text>
<text x="643.85" y="780.00" font-size="17.50" textLength="20.05" lengthAdjust="spacingAndGlyphs">15</text>
<text x="643.34" y="667.00" font-size="17.50" textLength="20.53" lengthAdjust="spacingAndGlyphs">20</text>
<text x="862.69" y="1166.65" font-size="17.50" textLength="74.89" lengthAdjust="spacingAndGlyphs">V2(km/s)</text>
<g transform="rotate(-90 627.90 926.80)">
<text x="627.82" y="926.80" font-size="17.50" textLength="73.83" lengthAdjust="spacingAndGlyphs">V1(km/s)</text>
</g>
<text x="677.57" y="649.80" font-size="24.15" textLength="283.17" lengthAdjust="spacingAndGlyphs">Hodogram (V2_V1 MVAV</text>
<text x="961.37" y="652.75" font-size="15.40" textLength="76.91" lengthAdjust="spacingAndGlyphs" font-family="'Liberation Serif', serif" font-style="italic">remaining</text>
<text x="1046.35" y="649.80" font-size="24.15" textLength="76.69" lengthAdjust="spacingAndGlyphs">frame)</text>
<text x="686.75" y="1093.40" font-size="18.32" textLength="9.71" lengthAdjust="spacingAndGlyphs" font-family="'Liberation Serif', serif" font-style="italic">λ</text>
<text x="695.28" y="1095.90" font-size="13.64" textLength="6.39" lengthAdjust="spacingAndGlyphs" font-family="'Liberation Serif', serif">1</text>
<text x="703.90" y="1097.90" font-size="26.01" textLength="7.00" lengthAdjust="spacingAndGlyphs" font-family="'Liberation Serif', serif">/</text>
<text x="714.93" y="1093.40" font-size="18.32" textLength="9.41" lengthAdjust="spacingAndGlyphs" font-family="'Liberation Serif', serif" font-style="italic">λ</text>
<text x="723.20" y="1096.40" font-size="13.64" textLength="6.86" lengthAdjust="spacingAndGlyphs" font-family="'Liberation Serif', serif">2</text>
<text x="735.06" y="1091.90" font-size="14.00" textLength="14.62" lengthAdjust="spacingAndGlyphs" font-family="'Liberation Serif', serif">≈</text>
<text x="756.90" y="1093.40" font-size="19.69" textLength="52.50" lengthAdjust="spacingAndGlyphs">30.77</text>
<path d="M1292.5,1116V662M1405.5,1116V662M1518.5,1116V662M1632.5,1116V662" stroke="#000" stroke-width="1.04" stroke-dasharray="2.08 6.25" fill="none"/>
<path d="M1229,1002.5H1683M1229,889.5H1683M1229,775.5H1683" stroke="#000" stroke-width="1.04" stroke-dasharray="2.08 6.25" fill="none"/>
<clipPath id="cF"><rect x="1229" y="662" width="454" height="454"/></clipPath>
<g clip-path="url(#cF)">
<polyline points="1448.30,843.40 1446.20,688.40 1459.40,726.40 1444.90,755.40 1448.30,880.10 1459.00,923.20 1423.10,909.10 1486.30,902.30 1444.90,1073.10 1454.30,995.40" fill="none" stroke="#0000ff" stroke-width="2.08" stroke-linejoin="round"/>
<circle cx="1448.30" cy="843.40" r="3.125" fill="#0000ff" stroke="#0000ff" stroke-width="1.04"/>
<circle cx="1446.20" cy="688.40" r="3.125" fill="#0000ff" stroke="#0000ff" stroke-width="1.04"/>
<circle cx="1459.40" cy="726.40" r="3.125" fill="#0000ff" stroke="#0000ff" stroke-width="1.04"/>
<circle cx="1444.90" cy="755.40" r="3.125" fill="#0000ff" stroke="#0000ff" stroke-width="1.04"/>
<circle cx="1448.30" cy="880.10" r="3.125" fill="#0000ff" stroke="#0000ff" stroke-width="1.04"/>
<circle cx="1459.00" cy="923.20" r="3.125" fill="#0000ff" stroke="#0000ff" stroke-width="1.04"/>
<circle cx="1423.10" cy="909.10" r="3.125" fill="#0000ff" stroke="#0000ff" stroke-width="1.04"/>
<circle cx="1486.30" cy="902.30" r="3.125" fill="#0000ff" stroke="#0000ff" stroke-width="1.04"/>
<circle cx="1444.90" cy="1073.10" r="3.125" fill="#0000ff" stroke="#0000ff" stroke-width="1.04"/>
<circle cx="1454.30" cy="995.40" r="3.125" fill="#0000ff" stroke="#0000ff" stroke-width="1.04"/>
</g>
<rect x="1229" y="662" width="454" height="454" fill="none" stroke="#000" stroke-width="2.0"/>
<path d="M1292.5,1116V1107.67M1292.5,662V670.33M1405.5,1116V1107.67M1405.5,662V670.33M1518.5,1116V1107.67M1518.5,662V670.33M1632.5,1116V1107.67M1632.5,662V670.33M1229,1116.5H1237.33M1683,1116.5H1674.67M1229,1002.5H1237.33M1683,1002.5H1674.67M1229,889.5H1237.33M1683,889.5H1674.67M1229,775.5H1237.33M1683,775.5H1674.67M1229,662.5H1237.33M1683,662.5H1674.67" stroke="#000" stroke-width="1.04" fill="none"/>
<text x="1275.54" y="1138.00" font-size="17.50" textLength="33.77" lengthAdjust="spacingAndGlyphs">−95</text>
<text x="1388.36" y="1138.00" font-size="17.50" textLength="34.08" lengthAdjust="spacingAndGlyphs">−90</text>
<text x="1501.54" y="1138.00" font-size="17.50" textLength="33.77" lengthAdjust="spacingAndGlyphs">−85</text>
<text x="1615.36" y="1138.00" font-size="17.50" textLength="34.08" lengthAdjust="spacingAndGlyphs">−80</text>
<text x="1210.06" y="1121.00" font-size="17.50" textLength="9.77" lengthAdjust="spacingAndGlyphs">0</text>
<text x="1210.62" y="1007.00" font-size="17.50" textLength="9.22" lengthAdjust="spacingAndGlyphs">5</text>
<text x="1199.48" y="894.00" font-size="17.50" textLength="20.39" lengthAdjust="spacingAndGlyphs">10</text>
<text x="1199.85" y="780.00" font-size="17.50" textLength="20.05" lengthAdjust="spacingAndGlyphs">15</text>
<text x="1199.34" y="667.00" font-size="17.50" textLength="20.53" lengthAdjust="spacingAndGlyphs">20</text>
<text x="1418.69" y="1166.65" font-size="17.50" textLength="74.89" lengthAdjust="spacingAndGlyphs">V3(km/s)</text>
<g transform="rotate(-90 1183.90 926.80)">
<text x="1183.82" y="926.80" font-size="17.50" textLength="73.83" lengthAdjust="spacingAndGlyphs">V1(km/s)</text>
</g>
<text x="1233.57" y="649.80" font-size="24.15" textLength="283.17" lengthAdjust="spacingAndGlyphs">Hodogram (V3_V1 MVAV</text>
<text x="1517.37" y="652.75" font-size="15.40" textLength="76.91" lengthAdjust="spacingAndGlyphs" font-family="'Liberation Serif', serif" font-style="italic">remaining</text>
<text x="1602.35" y="649.80" font-size="24.15" textLength="76.69" lengthAdjust="spacingAndGlyphs">frame)</text>
<text x="1262.75" y="1093.40" font-size="18.32" textLength="9.71" lengthAdjust="spacingAndGlyphs" font-family="'Liberation Serif', serif" font-style="italic">λ</text>
<text x="1271.28" y="1095.90" font-size="13.64" textLength="6.39" lengthAdjust="spacingAndGlyphs" font-family="'Liberation Serif', serif">1</text>
<text x="1279.90" y="1097.90" font-size="26.01" textLength="7.00" lengthAdjust="spacingAndGlyphs" font-family="'Liberation Serif', serif">/</text>
<text x="1290.93" y="1093.40" font-size="18.32" textLength="9.41" lengthAdjust="spacingAndGlyphs" font-family="'Liberation Serif', serif" font-style="italic">λ</text>
<text x="1299.16" y="1096.40" font-size="13.64" textLength="6.66" lengthAdjust="spacingAndGlyphs" font-family="'Liberation Serif', serif">3</text>
<text x="1311.06" y="1091.90" font-size="14.00" textLength="14.62" lengthAdjust="spacingAndGlyphs" font-family="'Liberation Serif', serif">≈</text>
<text x="1332.86" y="1093.40" font-size="19.69" textLength="52.49" lengthAdjust="spacingAndGlyphs">56.93</text>
<clipPath id="c1305"><rect x="117" y="1305" width="1566" height="222"/></clipPath>
<g clip-path="url(#c1305)">
<line x1="117.00" y1="1438.50" x2="1683.00" y2="1438.50" stroke="#000" stroke-width="1.04" stroke-dasharray="12.5 12.5"/>
<polyline points="117.00,1322.50 291.00,1323.00 465.00,1322.50 639.00,1322.50 813.00,1323.00 987.00,1322.50 1161.00,1321.90 1335.00,1322.50 1509.00,1321.30 1683.00,1321.30" fill="none" stroke="#ff0000" stroke-width="2.08" stroke-linejoin="round"/>
<polyline points="117.00,1486.50 291.00,1483.00 465.00,1483.60 639.00,1484.80 813.00,1487.60 987.00,1488.20 1161.00,1486.50 1335.00,1485.90 1509.00,1486.50 1683.00,1488.20" fill="none" stroke="#008000" stroke-width="2.08" stroke-linejoin="round"/>
<polyline points="117.00,1406.70 291.00,1398.20 465.00,1399.90 639.00,1401.00 813.00,1402.80 987.00,1406.20 1161.00,1405.00 1335.00,1404.50 1509.00,1406.20 1683.00,1410.20" fill="none" stroke="#0000ff" stroke-width="2.08" stroke-linejoin="round"/>
</g>
<rect x="117" y="1305" width="1566" height="222" fill="none" stroke="#000" stroke-width="2.0"/>
<path d="M117.5,1527V1518.67M117.5,1305V1313.33M291.5,1527V1518.67M291.5,1305V1313.33M465.5,1527V1518.67M465.5,1305V1313.33M639.5,1527V1518.67M639.5,1305V1313.33M813.5,1527V1518.67M813.5,1305V1313.33M987.5,1527V1518.67M987.5,1305V1313.33M1161.5,1527V1518.67M1161.5,1305V1313.33M1335.5,1527V1518.67M1335.5,1305V1313.33M1509.5,1527V1518.67M1509.5,1305V1313.33M1683.5,1527V1518.67M1683.5,1305V1313.33M117,1527.5H125.33M1683,1527.5H1674.67M117,1483.5H125.33M1683,1483.5H1674.67M117,1438.5H125.33M1683,1438.5H1674.67M117,1394.5H125.33M1683,1394.5H1674.67M117,1349.5H125.33M1683,1349.5H1674.67M117,1305.5H125.33M1683,1305.5H1674.67" stroke="#000" stroke-width="1.04" fill="none"/>
<text x="53.87" y="1550.00" font-size="17.50" textLength="127.36" lengthAdjust="spacingAndGlyphs">06/19 11:05:03</text>
<text x="227.67" y="1550.00" font-size="17.50" textLength="127.48" lengthAdjust="spacingAndGlyphs">06/19 11:05:04</text>
<text x="401.93" y="1550.00" font-size="17.50" textLength="127.20" lengthAdjust="spacingAndGlyphs">06/19 11:05:05</text>
<text x="575.72" y="1550.00" font-size="17.50" textLength="127.65" lengthAdjust="spacingAndGlyphs">06/19 11:05:06</text>
<text x="749.91" y="1550.00" font-size="17.50" textLength="127.39" lengthAdjust="spacingAndGlyphs">06/19 11:05:07</text>
<text x="923.77" y="1550.00" font-size="17.50" textLength="127.55" lengthAdjust="spacingAndGlyphs">06/19 11:05:08</text>
<text x="1097.78" y="1550.00" font-size="17.50" textLength="127.59" lengthAdjust="spacingAndGlyphs">06/19 11:05:09</text>
<text x="1271.75" y="1550.00" font-size="17.50" textLength="127.49" lengthAdjust="spacingAndGlyphs">06/19 11:05:10</text>
<text x="1445.97" y="1550.00" font-size="17.50" textLength="127.25" lengthAdjust="spacingAndGlyphs">06/19 11:05:11</text>
<text x="1620.04" y="1550.00" font-size="17.50" textLength="127.14" lengthAdjust="spacingAndGlyphs">06/19 11:05:12</text>
<text x="63.26" y="1532.00" font-size="17.50" textLength="44.66" lengthAdjust="spacingAndGlyphs">−100</text>
<text x="73.85" y="1488.00" font-size="17.50" textLength="34.08" lengthAdjust="spacingAndGlyphs">−50</text>
<text x="98.06" y="1443.00" font-size="17.50" textLength="9.77" lengthAdjust="spacingAndGlyphs">0</text>
<text x="87.60" y="1399.00" font-size="17.50" textLength="20.26" lengthAdjust="spacingAndGlyphs">50</text>
<text x="76.85" y="1354.00" font-size="17.50" textLength="31.02" lengthAdjust="spacingAndGlyphs">100</text>
<text x="76.85" y="1310.00" font-size="17.50" textLength="31.02" lengthAdjust="spacingAndGlyphs">150</text>
<text x="739.78" y="1294.70" font-size="24.15" textLength="319.93" lengthAdjust="spacingAndGlyphs">Magnetic Field (RTN Frame)</text>
<g transform="rotate(-90 48.90 1439.35)">
<text x="47.47" y="1439.35" font-size="17.50" textLength="43.45" lengthAdjust="spacingAndGlyphs">B(nT)</text>
</g>
<rect x="1604" y="1312" width="72" height="72" fill="#fff" stroke="#000" stroke-width="2.0"/>
<line x1="1612.90" y1="1325.00" x2="1636.00" y2="1325.00" stroke="#ff0000" stroke-width="2.08"/>
<text x="1650.70" y="1329.70" font-size="15.73" textLength="15.85" lengthAdjust="spacingAndGlyphs">Br</text>
<line x1="1612.90" y1="1347.00" x2="1636.00" y2="1347.00" stroke="#008000" stroke-width="2.08"/>
<text x="1650.69" y="1351.70" font-size="15.73" textLength="15.10" lengthAdjust="spacingAndGlyphs">Bt</text>
<line x1="1612.90" y1="1370.00" x2="1636.00" y2="1370.00" stroke="#0000ff" stroke-width="2.08"/>
<text x="1650.76" y="1374.70" font-size="15.73" textLength="18.48" lengthAdjust="spacingAndGlyphs">Bn</text>
<clipPath id="c1639"><rect x="117" y="1639" width="1566" height="222"/></clipPath>
<g clip-path="url(#c1639)">
<line x1="117.00" y1="1836.50" x2="1683.00" y2="1836.50" stroke="#000" stroke-width="1.04" stroke-dasharray="12.5 12.5"/>
<polyline points="117.00,1820.80 291.00,1811.70 465.00,1813.40 639.00,1814.50 813.00,1815.10 987.00,1819.10 1161.00,1819.10 1335.00,1818.50 1509.00,1820.80 1683.00,1825.30" fill="none" stroke="#ff0000" stroke-width="2.08" stroke-linejoin="round"/>
<polyline points="117.00,1833.30 291.00,1842.40 465.00,1841.30 639.00,1839.60 813.00,1834.40 987.00,1831.60 1161.00,1835.00 1335.00,1835.00 1509.00,1834.40 1683.00,1829.90" fill="none" stroke="#008000" stroke-width="2.08" stroke-linejoin="round"/>
<polyline points="117.00,1657.30 291.00,1657.20 465.00,1657.00 639.00,1656.80 813.00,1656.50 987.00,1656.50 1161.00,1656.60 1335.00,1656.30 1509.00,1655.60 1683.00,1655.50" fill="none" stroke="#0000ff" stroke-width="2.08" stroke-linejoin="round"/>
<polyline points="117.00,1656.30 291.00,1656.20 465.00,1656.00 639.00,1655.80 813.00,1655.50 987.00,1655.50 1161.00,1655.60 1335.00,1655.30 1509.00,1654.60 1683.00,1654.50" fill="none" stroke="#000000" stroke-width="2.08" stroke-linejoin="round"/>
</g>
<rect x="117" y="1639" width="1566" height="222" fill="none" stroke="#000" stroke-width="2.0"/>
<path d="M117.5,1861V1852.67M117.5,1639V1647.33M291.5,1861V1852.67M291.5,1639V1647.33M465.5,1861V1852.67M465.5,1639V1647.33M639.5,1861V1852.67M639.5,1639V1647.33M813.5,1861V1852.67M813.5,1639V1647.33M987.5,1861V1852.67M987.5,1639V1647.33M1161.5,1861V1852.67M1161.5,1639V1647.33M1335.5,1861V1852.67M1335.5,1639V1647.33M1509.5,1861V1852.67M1509.5,1639V1647.33M1683.5,1861V1852.67M1683.5,1639V1647.33M117,1861.5H125.33M1683,1861.5H1674.67M117,1836.5H125.33M1683,1836.5H1674.67M117,1811.5H125.33M1683,1811.5H1674.67M117,1787.5H125.33M1683,1787.5H1674.67M117,1762.5H125.33M1683,1762.5H1674.67M117,1737.5H125.33M1683,1737.5H1674.67M117,1713.5H125.33M1683,1713.5H1674.67M117,1688.5H125.33M1683,1688.5H1674.67M117,1663.5H125.33M1683,1663.5H1674.67M117,1639.5H125.33M1683,1639.5H1674.67" stroke="#000" stroke-width="1.04" fill="none"/>
<text x="53.87" y="1884.00" font-size="17.50" textLength="127.36" lengthAdjust="spacingAndGlyphs">06/19 11:05:03</text>
<text x="227.67" y="1884.00" font-size="17.50" textLength="127.48" lengthAdjust="spacingAndGlyphs">06/19 11:05:04</text>
<text x="401.93" y="1884.00" font-size="17.50" textLength="127.20" lengthAdjust="spacingAndGlyphs">06/19 11:05:05</text>
<text x="575.72" y="1884.00" font-size="17.50" textLength="127.65" lengthAdjust="spacingAndGlyphs">06/19 11:05:06</text>
<text x="749.91" y="1884.00" font-size="17.50" textLength="127.39" lengthAdjust="spacingAndGlyphs">06/19 11:05:07</text>
<text x="923.77" y="1884.00" font-size="17.50" textLength="127.55" lengthAdjust="spacingAndGlyphs">06/19 11:05:08</text>
<text x="1097.78" y="1884.00" font-size="17.50" textLength="127.59" lengthAdjust="spacingAndGlyphs">06/19 11:05:09</text>
<text x="1271.75" y="1884.00" font-size="17.50" textLength="127.49" lengthAdjust="spacingAndGlyphs">06/19 11:05:10</text>
<text x="1445.97" y="1884.00" font-size="17.50" textLength="127.25" lengthAdjust="spacingAndGlyphs">06/19 11:05:11</text>
<text x="1620.04" y="1884.00" font-size="17.50" textLength="127.14" lengthAdjust="spacingAndGlyphs">06/19 11:05:12</text>
<text x="73.85" y="1866.00" font-size="17.50" textLength="34.08" lengthAdjust="spacingAndGlyphs">−20</text>
<text x="98.06" y="1841.00" font-size="17.50" textLength="9.77" lengthAdjust="spacingAndGlyphs">0</text>
<text x="87.34" y="1816.00" font-size="17.50" textLength="20.53" lengthAdjust="spacingAndGlyphs">20</text>
<text x="87.44" y="1792.00" font-size="17.50" textLength="20.43" lengthAdjust="spacingAndGlyphs">40</text>
<text x="87.27" y="1767.00" font-size="17.50" textLength="20.61" lengthAdjust="spacingAndGlyphs">60</text>
<text x="87.38" y="1742.00" font-size="17.50" textLength="20.49" lengthAdjust="spacingAndGlyphs">80</text>
<text x="76.85" y="1718.00" font-size="17.50" textLength="31.02" lengthAdjust="spacingAndGlyphs">100</text>
<text x="76.85" y="1693.00" font-size="17.50" textLength="31.02" lengthAdjust="spacingAndGlyphs">120</text>
<text x="76.85" y="1668.00" font-size="17.50" textLength="31.02" lengthAdjust="spacingAndGlyphs">140</text>
<text x="76.85" y="1644.00" font-size="17.50" textLength="31.02" lengthAdjust="spacingAndGlyphs">160</text>
<text x="706.42" y="1628.70" font-size="24.15" textLength="386.65" lengthAdjust="spacingAndGlyphs">Magnetic Field (Flux Rope Frame)</text>
<g transform="rotate(-90 59.90 1772.60)">
<text x="58.46" y="1772.60" font-size="17.50" textLength="43.83" lengthAdjust="spacingAndGlyphs">B(nT)</text>
</g>
<rect x="1601" y="1646" width="75" height="94" fill="#fff" stroke="#000" stroke-width="2.0"/>
<line x1="1609.90" y1="1659.00" x2="1632.20" y2="1659.00" stroke="#ff0000" stroke-width="2.08"/>
<text x="1647.50" y="1664.00" font-size="15.73" textLength="21.53" lengthAdjust="spacingAndGlyphs">Bx'</text>
<line x1="1609.90" y1="1681.00" x2="1632.20" y2="1681.00" stroke="#008000" stroke-width="2.08"/>
<text x="1647.50" y="1686.00" font-size="15.73" textLength="21.53" lengthAdjust="spacingAndGlyphs">By'</text>
<line x1="1609.90" y1="1703.00" x2="1632.20" y2="1703.00" stroke="#0000ff" stroke-width="2.08"/>
<text x="1647.56" y="1708.00" font-size="15.73" textLength="20.47" lengthAdjust="spacingAndGlyphs">Bz'</text>
<line x1="1609.90" y1="1725.00" x2="1632.20" y2="1725.00" stroke="#000000" stroke-width="2.08"/>
<text x="1647.40" y="1730.00" font-size="15.73" textLength="18.62" lengthAdjust="spacingAndGlyphs">|B|</text>
<clipPath id="c1972"><rect x="117" y="1972" width="1566" height="222"/></clipPath>
<g clip-path="url(#c1972)">
<polyline points="117.00,1995.90 291.00,1994.70 465.00,1995.30 639.00,1994.70 813.00,1994.50 987.00,1994.20 1161.00,1995.30 1335.00,1994.70 1509.00,1995.90 1683.00,1995.30" fill="none" stroke="#ff0000" stroke-width="2.08" stroke-linejoin="round"/>
<polyline points="117.00,2171.30 291.00,2172.70 465.00,2172.40 639.00,2171.80 813.00,2170.40 987.00,2170.10 1161.00,2169.60 1335.00,2171.30 1509.00,2168.70 1683.00,2169.60" fill="none" stroke="#008000" stroke-width="2.08" stroke-linejoin="round"/>
<polyline points="117.00,2157.60 291.00,2161.00 465.00,2159.90 639.00,2159.60 813.00,2157.00 987.00,2155.90 1161.00,2156.80 1335.00,2155.90 1509.00,2152.80 1683.00,2154.50" fill="none" stroke="#0000ff" stroke-width="2.08" stroke-linejoin="round"/>
</g>
<rect x="117" y="1972" width="1566" height="222" fill="none" stroke="#000" stroke-width="2.0"/>
<path d="M117.5,2194V2185.67M117.5,1972V1980.33M291.5,2194V2185.67M291.5,1972V1980.33M465.5,2194V2185.67M465.5,1972V1980.33M639.5,2194V2185.67M639.5,1972V1980.33M813.5,2194V2185.67M813.5,1972V1980.33M987.5,2194V2185.67M987.5,1972V1980.33M1161.5,2194V2185.67M1161.5,1972V1980.33M1335.5,2194V2185.67M1335.5,1972V1980.33M1509.5,2194V2185.67M1509.5,1972V1980.33M1683.5,2194V2185.67M1683.5,1972V1980.33M117,2194.5H125.33M1683,2194.5H1674.67M117,2166.5H125.33M1683,2166.5H1674.67M117,2139.5H125.33M1683,2139.5H1674.67M117,2111.5H125.33M1683,2111.5H1674.67M117,2083.5H125.33M1683,2083.5H1674.67M117,2055.5H125.33M1683,2055.5H1674.67M117,2028.5H125.33M1683,2028.5H1674.67M117,2000.5H125.33M1683,2000.5H1674.67M117,1972.5H125.33M1683,1972.5H1674.67" stroke="#000" stroke-width="1.04" fill="none"/>
<text x="53.87" y="2217.00" font-size="17.50" textLength="127.36" lengthAdjust="spacingAndGlyphs">06/19 11:05:03</text>
<text x="227.67" y="2217.00" font-size="17.50" textLength="127.48" lengthAdjust="spacingAndGlyphs">06/19 11:05:04</text>
<text x="401.93" y="2217.00" font-size="17.50" textLength="127.20" lengthAdjust="spacingAndGlyphs">06/19 11:05:05</text>
<text x="575.72" y="2217.00" font-size="17.50" textLength="127.65" lengthAdjust="spacingAndGlyphs">06/19 11:05:06</text>
<text x="749.91" y="2217.00" font-size="17.50" textLength="127.39" lengthAdjust="spacingAndGlyphs">06/19 11:05:07</text>
<text x="923.77" y="2217.00" font-size="17.50" textLength="127.55" lengthAdjust="spacingAndGlyphs">06/19 11:05:08</text>
<text x="1097.78" y="2217.00" font-size="17.50" textLength="127.59" lengthAdjust="spacingAndGlyphs">06/19 11:05:09</text>
<text x="1271.75" y="2217.00" font-size="17.50" textLength="127.49" lengthAdjust="spacingAndGlyphs">06/19 11:05:10</text>
<text x="1445.97" y="2217.00" font-size="17.50" textLength="127.25" lengthAdjust="spacingAndGlyphs">06/19 11:05:11</text>
<text x="1620.04" y="2217.00" font-size="17.50" textLength="127.14" lengthAdjust="spacingAndGlyphs">06/19 11:05:12</text>
<text x="63.26" y="2199.00" font-size="17.50" textLength="44.66" lengthAdjust="spacingAndGlyphs">−100</text>
<text x="73.85" y="2172.00" font-size="17.50" textLength="34.08" lengthAdjust="spacingAndGlyphs">−50</text>
<text x="98.06" y="2144.00" font-size="17.50" textLength="9.77" lengthAdjust="spacingAndGlyphs">0</text>
<text x="87.60" y="2116.00" font-size="17.50" textLength="20.26" lengthAdjust="spacingAndGlyphs">50</text>
<text x="76.85" y="2088.00" font-size="17.50" textLength="31.02" lengthAdjust="spacingAndGlyphs">100</text>
<text x="76.85" y="2061.00" font-size="17.50" textLength="31.02" lengthAdjust="spacingAndGlyphs">150</text>
<text x="76.72" y="2033.00" font-size="17.50" textLength="31.16" lengthAdjust="spacingAndGlyphs">200</text>
<text x="76.72" y="2005.00" font-size="17.50" textLength="31.16" lengthAdjust="spacingAndGlyphs">250</text>
<text x="77.00" y="1977.00" font-size="17.50" textLength="30.87" lengthAdjust="spacingAndGlyphs">300</text>
<text x="712.25" y="1961.70" font-size="24.15" textLength="375.92" lengthAdjust="spacingAndGlyphs">Solar Wind Velocity (RTN Frame)</text>
<g transform="rotate(-90 48.00 2127.80)">
<text x="47.92" y="2127.80" font-size="17.50" textLength="85.82" lengthAdjust="spacingAndGlyphs">Vsw(km/s)</text>
</g>
<rect x="1604" y="1979" width="72" height="72" fill="#fff" stroke="#000" stroke-width="2.0"/>
<line x1="1612.90" y1="1992.00" x2="1635.00" y2="1992.00" stroke="#ff0000" stroke-width="2.08"/>
<text x="1651.03" y="1996.90" font-size="15.73" textLength="15.88" lengthAdjust="spacingAndGlyphs">Vr</text>
<line x1="1612.90" y1="2014.00" x2="1635.00" y2="2014.00" stroke="#008000" stroke-width="2.08"/>
<text x="1651.03" y="2018.90" font-size="15.73" textLength="15.12" lengthAdjust="spacingAndGlyphs">Vt</text>
<line x1="1612.90" y1="2037.00" x2="1635.00" y2="2037.00" stroke="#0000ff" stroke-width="2.08"/>
<text x="1651.03" y="2041.90" font-size="15.73" textLength="18.57" lengthAdjust="spacingAndGlyphs">Vn</text>
<clipPath id="c2306"><rect x="117" y="2306" width="1566" height="222"/></clipPath>
<g clip-path="url(#c2306)">
<polyline points="117.00,2316.80 291.00,2419.30 465.00,2493.90 639.00,2422.10 813.00,2480.20 987.00,2465.40 1161.00,2444.90 1335.00,2357.20 1509.00,2509.80 1683.00,2470.00" fill="none" stroke="#0000ff" stroke-width="2.08" stroke-linejoin="round"/>
</g>
<rect x="117" y="2306" width="1566" height="222" fill="none" stroke="#000" stroke-width="2.0"/>
<path d="M117.5,2528V2519.67M117.5,2306V2314.33M291.5,2528V2519.67M291.5,2306V2314.33M465.5,2528V2519.67M465.5,2306V2314.33M639.5,2528V2519.67M639.5,2306V2314.33M813.5,2528V2519.67M813.5,2306V2314.33M987.5,2528V2519.67M987.5,2306V2314.33M1161.5,2528V2519.67M1161.5,2306V2314.33M1335.5,2528V2519.67M1335.5,2306V2314.33M1509.5,2528V2519.67M1509.5,2306V2314.33M1683.5,2528V2519.67M1683.5,2306V2314.33M117,2528.5H125.33M1683,2528.5H1674.67M117,2478.5H125.33M1683,2478.5H1674.67M117,2429.5H125.33M1683,2429.5H1674.67M117,2380.5H125.33M1683,2380.5H1674.67M117,2330.5H125.33M1683,2330.5H1674.67" stroke="#000" stroke-width="1.04" fill="none"/>
<text x="53.87" y="2551.00" font-size="17.50" textLength="127.36" lengthAdjust="spacingAndGlyphs">06/19 11:05:03</text>
<text x="227.67" y="2551.00" font-size="17.50" textLength="127.48" lengthAdjust="spacingAndGlyphs">06/19 11:05:04</text>
<text x="401.93" y="2551.00" font-size="17.50" textLength="127.20" lengthAdjust="spacingAndGlyphs">06/19 11:05:05</text>
<text x="575.72" y="2551.00" font-size="17.50" textLength="127.65" lengthAdjust="spacingAndGlyphs">06/19 11:05:06</text>
<text x="749.91" y="2551.00" font-size="17.50" textLength="127.39" lengthAdjust="spacingAndGlyphs">06/19 11:05:07</text>
<text x="923.77" y="2551.00" font-size="17.50" textLength="127.55" lengthAdjust="spacingAndGlyphs">06/19 11:05:08</text>
<text x="1097.78" y="2551.00" font-size="17.50" textLength="127.59" lengthAdjust="spacingAndGlyphs">06/19 11:05:09</text>
<text x="1271.75" y="2551.00" font-size="17.50" textLength="127.49" lengthAdjust="spacingAndGlyphs">06/19 11:05:10</text>
<text x="1445.97" y="2551.00" font-size="17.50" textLength="127.25" lengthAdjust="spacingAndGlyphs">06/19 11:05:11</text>
<text x="1620.04" y="2551.00" font-size="17.50" textLength="127.14" lengthAdjust="spacingAndGlyphs">06/19 11:05:12</text>
<text x="61.34" y="2533.00" font-size="17.50" textLength="46.73" lengthAdjust="spacingAndGlyphs">0.051</text>
<text x="61.47" y="2483.00" font-size="17.50" textLength="46.62" lengthAdjust="spacingAndGlyphs">0.052</text>
<text x="61.13" y="2434.00" font-size="17.50" textLength="46.84" lengthAdjust="spacingAndGlyphs">0.053</text>
<text x="60.73" y="2385.00" font-size="17.50" textLength="46.97" lengthAdjust="spacingAndGlyphs">0.054</text>
<text x="61.25" y="2335.00" font-size="17.50" textLength="46.68" lengthAdjust="spacingAndGlyphs">0.055</text>
<text x="828.54" y="2295.70" font-size="24.15" textLength="140.88" lengthAdjust="spacingAndGlyphs">Plasma Beta</text>
<g transform="rotate(-90 42.40 2424.50)">
<text x="42.70" y="2424.50" font-size="16.25" textLength="9.42" lengthAdjust="spacingAndGlyphs" font-family="'Liberation Serif', serif" font-style="italic" fill="#555">β</text>
<text x="51.67" y="2426.90" font-size="9.90" textLength="5.68" lengthAdjust="spacingAndGlyphs" font-family="'Liberation Serif', serif" font-style="italic" fill="#555">p</text>
</g>
<clipPath id="c2639"><rect x="117" y="2639" width="1566" height="222"/></clipPath>
<g clip-path="url(#c2639)">
<polyline points="117.00,2668.90 291.00,2732.10 465.00,2779.90 639.00,2748.60 813.00,2781.60 987.00,2806.70 1161.00,2778.20 1335.00,2757.10 1509.00,2846.50 1683.00,2790.70" fill="none" stroke="#0000ff" stroke-width="2.08" stroke-linejoin="round"/>
</g>
<rect x="117" y="2639" width="1566" height="222" fill="none" stroke="#000" stroke-width="2.0"/>
<path d="M117.5,2861V2852.67M117.5,2639V2647.33M291.5,2861V2852.67M291.5,2639V2647.33M465.5,2861V2852.67M465.5,2639V2647.33M639.5,2861V2852.67M639.5,2639V2647.33M813.5,2861V2852.67M813.5,2639V2647.33M987.5,2861V2852.67M987.5,2639V2647.33M1161.5,2861V2852.67M1161.5,2639V2647.33M1335.5,2861V2852.67M1335.5,2639V2647.33M1509.5,2861V2852.67M1509.5,2639V2647.33M1683.5,2861V2852.67M1683.5,2639V2647.33M117,2861.5H125.33M1683,2861.5H1674.67M117,2817.5H125.33M1683,2817.5H1674.67M117,2773.5H125.33M1683,2773.5H1674.67M117,2728.5H125.33M1683,2728.5H1674.67M117,2684.5H125.33M1683,2684.5H1674.67M117,2639.5H125.33M1683,2639.5H1674.67" stroke="#000" stroke-width="1.04" fill="none"/>
<text x="53.87" y="2884.00" font-size="17.50" textLength="127.36" lengthAdjust="spacingAndGlyphs">06/19 11:05:03</text>
<text x="227.67" y="2884.00" font-size="17.50" textLength="127.48" lengthAdjust="spacingAndGlyphs">06/19 11:05:04</text>
<text x="401.93" y="2884.00" font-size="17.50" textLength="127.20" lengthAdjust="spacingAndGlyphs">06/19 11:05:05</text>
<text x="575.72" y="2884.00" font-size="17.50" textLength="127.65" lengthAdjust="spacingAndGlyphs">06/19 11:05:06</text>
<text x="749.91" y="2884.00" font-size="17.50" textLength="127.39" lengthAdjust="spacingAndGlyphs">06/19 11:05:07</text>
<text x="923.77" y="2884.00" font-size="17.50" textLength="127.55" lengthAdjust="spacingAndGlyphs">06/19 11:05:08</text>
<text x="1097.78" y="2884.00" font-size="17.50" textLength="127.59" lengthAdjust="spacingAndGlyphs">06/19 11:05:09</text>
<text x="1271.75" y="2884.00" font-size="17.50" textLength="127.49" lengthAdjust="spacingAndGlyphs">06/19 11:05:10</text>
<text x="1445.97" y="2884.00" font-size="17.50" textLength="127.25" lengthAdjust="spacingAndGlyphs">06/19 11:05:11</text>
<text x="1620.04" y="2884.00" font-size="17.50" textLength="127.14" lengthAdjust="spacingAndGlyphs">06/19 11:05:12</text>
<text x="76.83" y="2866.00" font-size="17.50" textLength="31.05" lengthAdjust="spacingAndGlyphs">410</text>
<text x="77.18" y="2822.00" font-size="17.50" textLength="30.74" lengthAdjust="spacingAndGlyphs">415</text>
<text x="76.83" y="2778.00" font-size="17.50" textLength="31.05" lengthAdjust="spacingAndGlyphs">420</text>
<text x="77.18" y="2733.00" font-size="17.50" textLength="30.74" lengthAdjust="spacingAndGlyphs">425</text>
<text x="76.83" y="2689.00" font-size="17.50" textLength="31.05" lengthAdjust="spacingAndGlyphs">430</text>
<text x="77.18" y="2644.00" font-size="17.50" textLength="30.74" lengthAdjust="spacingAndGlyphs">435</text>
<text x="764.59" y="2628.70" font-size="24.15" textLength="268.75" lengthAdjust="spacingAndGlyphs">Proton Number Density</text>
<g transform="rotate(-90 62.70 2787.30)">
<text x="61.13" y="2787.30" font-size="17.50" textLength="72.15" lengthAdjust="spacingAndGlyphs">Np(#/cc)</text>
</g>
<clipPath id="c2973"><rect x="117" y="2973" width="1566" height="222"/></clipPath>
<g clip-path="url(#c2973)">
<polyline points="117.00,3042.60 291.00,3110.30 465.00,3189.50 639.00,3095.50 813.00,3143.90 987.00,3105.80 1161.00,3104.10 1335.00,2977.10 1509.00,3125.10 1683.00,3147.40" fill="none" stroke="#0000ff" stroke-width="2.08" stroke-linejoin="round"/>
</g>
<rect x="117" y="2973" width="1566" height="222" fill="none" stroke="#000" stroke-width="2.0"/>
<path d="M117.5,3195V3186.67M117.5,2973V2981.33M291.5,3195V3186.67M291.5,2973V2981.33M465.5,3195V3186.67M465.5,2973V2981.33M639.5,3195V3186.67M639.5,2973V2981.33M813.5,3195V3186.67M813.5,2973V2981.33M987.5,3195V3186.67M987.5,2973V2981.33M1161.5,3195V3186.67M1161.5,2973V2981.33M1335.5,3195V3186.67M1335.5,2973V2981.33M1509.5,3195V3186.67M1509.5,2973V2981.33M1683.5,3195V3186.67M1683.5,2973V2981.33M117,3195.5H125.33M1683,3195.5H1674.67M117,3163.5H125.33M1683,3163.5H1674.67M117,3132.5H125.33M1683,3132.5H1674.67M117,3100.5H125.33M1683,3100.5H1674.67M117,3068.5H125.33M1683,3068.5H1674.67M117,3036.5H125.33M1683,3036.5H1674.67M117,3005.5H125.33M1683,3005.5H1674.67M117,2973.5H125.33M1683,2973.5H1674.67" stroke="#000" stroke-width="1.04" fill="none"/>
<text x="53.87" y="3218.00" font-size="17.50" textLength="127.36" lengthAdjust="spacingAndGlyphs">06/19 11:05:03</text>
<text x="227.67" y="3218.00" font-size="17.50" textLength="127.48" lengthAdjust="spacingAndGlyphs">06/19 11:05:04</text>
<text x="401.93" y="3218.00" font-size="17.50" textLength="127.20" lengthAdjust="spacingAndGlyphs">06/19 11:05:05</text>
<text x="575.72" y="3218.00" font-size="17.50" textLength="127.65" lengthAdjust="spacingAndGlyphs">06/19 11:05:06</text>
<text x="749.91" y="3218.00" font-size="17.50" textLength="127.39" lengthAdjust="spacingAndGlyphs">06/19 11:05:07</text>
<text x="923.77" y="3218.00" font-size="17.50" textLength="127.55" lengthAdjust="spacingAndGlyphs">06/19 11:05:08</text>
<text x="1097.78" y="3218.00" font-size="17.50" textLength="127.59" lengthAdjust="spacingAndGlyphs">06/19 11:05:09</text>
<text x="1271.75" y="3218.00" font-size="17.50" textLength="127.49" lengthAdjust="spacingAndGlyphs">06/19 11:05:10</text>
<text x="1445.97" y="3218.00" font-size="17.50" textLength="127.25" lengthAdjust="spacingAndGlyphs">06/19 11:05:11</text>
<text x="1620.04" y="3218.00" font-size="17.50" textLength="127.14" lengthAdjust="spacingAndGlyphs">06/19 11:05:12</text>
<text x="50.65" y="3200.00" font-size="17.50" textLength="57.29" lengthAdjust="spacingAndGlyphs">0.0755</text>
<text x="50.29" y="3168.00" font-size="17.50" textLength="57.59" lengthAdjust="spacingAndGlyphs">0.0760</text>
<text x="50.65" y="3137.00" font-size="17.50" textLength="57.29" lengthAdjust="spacingAndGlyphs">0.0765</text>
<text x="50.29" y="3105.00" font-size="17.50" textLength="57.59" lengthAdjust="spacingAndGlyphs">0.0770</text>
<text x="50.65" y="3073.00" font-size="17.50" textLength="57.29" lengthAdjust="spacingAndGlyphs">0.0775</text>
<text x="50.29" y="3042.00" font-size="17.50" textLength="57.59" lengthAdjust="spacingAndGlyphs">0.0780</text>
<text x="50.65" y="3010.00" font-size="17.50" textLength="57.29" lengthAdjust="spacingAndGlyphs">0.0785</text>
<text x="50.29" y="2978.00" font-size="17.50" textLength="57.59" lengthAdjust="spacingAndGlyphs">0.0790</text>
<text x="726.87" y="2960.80" font-size="24.15" textLength="282.52" lengthAdjust="spacingAndGlyphs">Proton Temperature and</text>
<text x="1014.30" y="2960.80" font-size="22.50" textLength="16.18" lengthAdjust="spacingAndGlyphs" font-family="'Liberation Serif', serif" font-style="italic">T</text>
<text x="1030.31" y="2963.80" font-size="15.50" textLength="7.04" lengthAdjust="spacingAndGlyphs" font-family="'Liberation Serif', serif" font-style="italic">e</text>
<text x="1040.10" y="2966.80" font-size="22.50" textLength="8.90" lengthAdjust="spacingAndGlyphs" font-family="'Liberation Serif', serif">/</text>
<text x="1048.20" y="2960.80" font-size="22.50" textLength="16.18" lengthAdjust="spacingAndGlyphs" font-family="'Liberation Serif', serif" font-style="italic">T</text>
<text x="1063.55" y="2963.80" font-size="15.50" textLength="8.14" lengthAdjust="spacingAndGlyphs" font-family="'Liberation Serif', serif" font-style="italic">p</text>
<g transform="rotate(-90 31.90 3118.80)">
<text x="31.52" y="3118.80" font-size="17.50" textLength="25.28" lengthAdjust="spacingAndGlyphs">Tp(</text>
<text x="58.77" y="3118.80" font-size="17.90" textLength="16.25" lengthAdjust="spacingAndGlyphs" font-family="'Liberation Serif', serif">10</text>
<text x="75.48" y="3112.80" font-size="12.00" textLength="6.09" lengthAdjust="spacingAndGlyphs" font-family="'Liberation Serif', serif">6</text>
<text x="82.48" y="3118.80" font-size="17.50" textLength="17.29" lengthAdjust="spacingAndGlyphs">K)</text>
</g>
<rect x="124" y="2980" width="71" height="27" fill="#fff" stroke="#000" stroke-width="2.0"/>
<line x1="133.90" y1="2993.00" x2="156.00" y2="2993.00" stroke="#0000ff" stroke-width="2.08"/>
<text x="170.70" y="2997.90" font-size="15.73" textLength="18.07" lengthAdjust="spacingAndGlyphs">Tp</text>
</svg>
</body></html>
